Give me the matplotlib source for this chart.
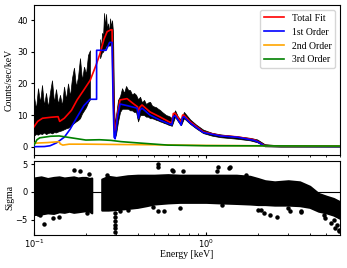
import matplotlib
matplotlib.use("Agg")
import matplotlib.pyplot as plt
import numpy as np

# ---- observed spectrum (envelope of the noisy data), keV / counts/sec/keV ----
# low-energy piece, below the chip gap
spec_e_a = [0.1000, 0.1027, 0.1055, 0.1084, 0.1113, 0.1143, 0.1174, 0.1206, 0.1239, 0.1272,
            0.1307, 0.1342, 0.1379, 0.1416, 0.1454, 0.1494, 0.1534, 0.1576, 0.1618, 0.1662,
            0.1707, 0.1754, 0.1801, 0.1850, 0.1900, 0.1952, 0.2005, 0.2059, 0.2115]
spec_hi_a = [15.8, 12.0, 18.5, 14.0, 19.5, 13.0, 17.0, 12.5, 17.3, 21.0,
             14.0, 18.2, 13.5, 16.4, 13.0, 19.0, 15.0, 20.0, 16.0, 21.7,
             25.0, 19.0, 22.0, 28.0, 21.0, 25.3, 23.0, 29.0, 30.5]
spec_lo_a = [3.5, 4.0, 3.8, 4.2, 4.0, 4.5, 4.0, 4.3, 4.5, 4.2,
             4.6, 4.5, 4.8, 5.0, 5.2, 5.5, 5.8, 6.0, 6.3, 7.0,
             7.5, 8.0, 8.4, 9.0, 10.5, 11.5, 12.5, 14.0, 15.0]

# above the gap
spec_e_b = [0.2420, 0.2452, 0.2485, 0.2519, 0.2553, 0.2587, 0.2622, 0.2657, 0.2693, 0.2729,
            0.2766, 0.2803, 0.2841, 0.2879, 0.2918, 0.2957,
            0.2997, 0.3078, 0.3162, 0.3247, 0.3335, 0.3426, 0.3519, 0.3614, 0.3712, 0.3812,
            0.3916, 0.4022, 0.4131, 0.4243, 0.4358, 0.4476, 0.4597, 0.4722, 0.4850, 0.4981,
            0.5116, 0.5255, 0.5397, 0.5543, 0.5694, 0.5848, 0.6006, 0.6169,
            0.632, 0.660, 0.686, 0.715, 0.743, 0.808, 0.874, 0.961, 1.08, 1.21,
            1.52, 1.80, 1.98, 2.19, 2.7, 6.0]
spec_hi_b = [34, 31, 36, 35, 42.3, 38, 42, 37, 39, 36,
             40.6, 38, 40, 36, 12, 7,
             10, 14.8, 16, 18.5, 17, 19.2, 18, 17.9, 16.5, 17,
             16.4, 15, 15.8, 14, 14.8, 13.5, 14, 14.2, 13, 12.7,
             12.5, 12, 11.6, 11, 10.5, 10, 9.8, 9.5,
             9.0, 11.5, 9.5, 8.5, 11.0, 8.6, 7.0, 5.4, 4.4, 3.9,
             3.3, 2.8, 2.3, 0.8, 0.4, 0.3]
spec_lo_b = [28, 29, 30, 30, 31, 31, 32, 32, 32, 32,
             32, 33, 33, 18, 3.5, 3.0,
             4, 8, 11, 12, 12, 12, 12, 11.5, 11.5, 11,
             11, 8, 10, 10, 10, 9.5, 9.5, 9, 9, 8.8,
             8.5, 8.3, 8, 7.8, 7.5, 7.3, 7, 6.8,
             6.6, 9.5, 8, 6.8, 9, 7.2, 5.8, 4.3, 3.5, 3.0,
             2.5, 2.0, 1.4, 0.1, 0.0, 0.0]

# ---- model components ----
fit_e = [0.100, 0.105, 0.112, 0.125, 0.138, 0.141, 0.150, 0.165, 0.178, 0.195,
         0.212, 0.230, 0.242, 0.255, 0.266, 0.280, 0.284, 0.288, 0.292, 0.296,
         0.305, 0.316, 0.347, 0.380, 0.400, 0.405, 0.412, 0.424, 0.472, 0.540,
         0.617, 0.632, 0.645, 0.660, 0.700, 0.715, 0.730, 0.743, 0.808, 0.961,
         1.21, 1.52, 1.90, 2.00, 2.19, 3.0, 6.0]
total_fit = [6.3, 8.0, 9.0, 9.3, 9.5, 8.0, 9.0, 11.5, 14.8, 18.0,
             21.0, 26.0, 29.5, 34.0, 36.4, 37.0, 37.0, 20.0, 6.0, 5.0,
             10.0, 14.8, 15.2, 13.5, 12.6, 10.0, 12.5, 13.2, 11.0, 9.4,
             7.7, 7.6, 10.5, 10.6, 8.5, 7.6, 10.0, 10.0, 7.9, 4.7,
             3.5, 3.1, 2.2, 1.6, 0.3, 0.2, 0.15]

first_e = [0.100, 0.115, 0.124, 0.135, 0.150, 0.162, 0.178, 0.195, 0.2115, 0.231,
           0.2311, 0.262, 0.275, 0.284, 0.288, 0.292, 0.296, 0.305, 0.316, 0.347,
           0.397, 0.405, 0.412, 0.424, 0.472, 0.540, 0.632, 0.645, 0.660, 0.700,
           0.715, 0.730, 0.743, 0.808, 0.961, 1.21, 1.52, 1.90, 2.00, 2.19, 6.0]
first_order = [0.0, 0.05, 0.3, 1.2, 3.0, 5.5, 9.4, 13.0, 15.0, 15.0,
               30.5, 30.5, 33.0, 33.0, 15.0, 3.0, 2.5, 9.0, 13.5, 13.0,
               12.2, 9.0, 11.5, 12.2, 10.0, 8.4, 6.9, 9.5, 9.8, 7.8,
               6.8, 9.2, 9.5, 7.5, 4.5, 3.4, 3.0, 2.0, 1.5, 0.2, 0.1]

second_e = [0.100, 0.120, 0.140, 0.142, 0.147, 0.160, 0.200, 0.300, 0.500, 1.0, 2.0, 6.0]
second_order = [1.1, 1.3, 1.6, 0.9, 0.5, 0.8, 0.8, 0.7, 0.6, 0.4, 0.3, 0.2]

third_e = [0.100, 0.104, 0.108, 0.125, 0.140, 0.165, 0.200, 0.240, 0.280, 0.320,
           0.400, 0.600, 1.0, 6.0]
third_order = [0.5, 2.2, 2.8, 3.3, 3.4, 2.8, 2.1, 2.2, 2.0, 1.6,
               1.2, 0.5, 0.3, 0.2]

# ---- residuals (sigma): dense band edges + single outlying points ----
res_e1 = [0.100, 0.110, 0.120, 0.130, 0.140, 0.150, 0.160, 0.170, 0.180, 0.190, 0.200, 0.210, 0.2165]
res_hi1 = [2.5, 2.7, 2.4, 2.6, 2.7, 2.5, 2.6, 2.7, 2.5, 2.6, 2.6, 2.4, 2.5]
res_lo1 = [-4.1, -4.0, -3.8, -3.9, -3.6, -3.7, -3.5, -3.7, -3.6, -3.5, -3.4, -3.5, -3.8]

res_e2 = [0.2475, 0.27, 0.30, 0.35, 0.40, 0.45, 0.50, 0.60, 0.70, 0.80, 1.0, 1.2,
          1.5, 1.8, 2.0, 2.2, 2.5, 3.0, 3.5, 4.0, 4.5, 5.0, 5.5, 6.0]
res_hi2 = [2.3, 2.8, 2.6, 2.9, 3.0, 3.0, 3.0, 3.1, 3.0, 3.0, 3.0, 3.0,
           3.0, 2.8, 2.4, 2.0, 1.8, 2.0, 1.8, 1.0, -0.3, -0.8, -1.2, -1.8]
res_lo2 = [-3.3, -3.3, -3.2, -3.0, -2.8, -2.5, -2.2, -2.0, -1.9, -1.9, -1.9, -2.0,
           -2.1, -2.2, -2.3, -2.3, -2.4, -2.4, -2.5, -2.8, -3.5, -3.8, -4.2, -4.8]

out_e = [0.1055, 0.1084, 0.1148, 0.1290, 0.1403, 0.1707, 0.1850, 0.2097, 0.2041, 0.2645,
         0.2957, 0.2957, 0.2957, 0.2957, 0.2957, 0.2957, 0.3162, 0.3519, 0.5234, 0.5274,
         0.494, 0.527, 0.570, 0.6325, 0.640, 0.730, 0.706, 1.15, 1.17, 1.35,
         1.37, 1.23, 1.71, 2.00, 2.07, 2.16, 2.35, 2.57, 3.01, 3.08,
         3.55, 3.58, 4.81, 4.92, 5.35, 5.50, 5.60, 5.76, 5.89, 5.92]
out_sig = [-4.0, -4.1, -5.8, -4.8, -4.5, 3.9, 3.8, 3.3, -3.9, 3.0,
           -3.8, -4.5, -5.2, -5.9, -6.6, -7.2, -3.5, -3.2, 5.0, 4.4,
           -2.8, -3.5, -3.5, 3.9, 3.7, 3.7, -2.9, 3.8, 4.5, 4.3,
           4.5, -2.3, 3.1, -3.3, -3.2, -3.9, -4.2, -4.5, -3.0, -3.5,
           -3.6, -3.5, -4.2, -4.8, -5.6, -5.0, -6.5, -6.0, -6.9, -7.1]

serif = "Liberation Serif"

fig = plt.figure(figsize=(3.47, 2.68), dpi=100)
ax1 = fig.add_axes([0.098, 0.422, 0.882, 0.559])
ax2 = fig.add_axes([0.098, 0.123, 0.882, 0.277], sharex=ax1)

# spectrum
for e, hi, lo in [(spec_e_a, spec_hi_a, spec_lo_a), (spec_e_b, spec_hi_b, spec_lo_b)]:
    ax1.fill_between(e, lo, hi, color="black", lw=0.5, zorder=1)
ax1.plot(fit_e, total_fit, color="red", lw=1.2, label="Total Fit", zorder=3)
ax1.plot(first_e, first_order, color="blue", lw=1.2, label="1st Order", zorder=4)
ax1.plot(second_e, second_order, color="orange", lw=1.2, label="2nd Order", zorder=5)
ax1.plot(third_e, third_order, color="green", lw=1.2, label="3rd Order", zorder=6)

ax1.set_xscale("log")
ax1.set_xlim(0.1, 6.0)
ax1.set_ylim(-2.6, 44.8)
ax1.set_yticks([0, 10, 20, 30, 40])
ax1.tick_params(labelbottom=False, labelsize=6, length=2.5, pad=2)
ax1.tick_params(which="minor", length=1.5)
ax1.set_ylabel("Counts/sec/keV", family=serif, fontsize=7)
ax1.yaxis.set_label_coords(-0.065, 0.5)
leg = ax1.legend(loc="upper right", prop={"family": serif, "size": 7})

# residuals
ax2.axhline(0, color="black", lw=0.8, zorder=0)
for e, hi, lo in [(res_e1, res_hi1, res_lo1), (res_e2, res_hi2, res_lo2)]:
    ax2.fill_between(e, lo, hi, color="black", lw=1.5, zorder=1)
ax2.plot(out_e, out_sig, "o", color="black", ms=2.2, zorder=2)
ax2.set_ylim(-7.8, 5.6)
ax2.set_yticks([-5, 0, 5])
ax2.tick_params(labelsize=6, length=2.5, pad=2)
ax2.tick_params(axis="x", which="both", direction="in", pad=1.5)
ax2.tick_params(which="minor", length=1.5)
ax2.set_ylabel("Sigma", family=serif, fontsize=7)
ax2.yaxis.set_label_coords(-0.065, 0.5)
ax2.set_xlabel("Energy [keV]", family=serif, fontsize=7)
ax2.xaxis.set_label_coords(0.5, -0.2)

fig.savefig("out.png", dpi=100)
